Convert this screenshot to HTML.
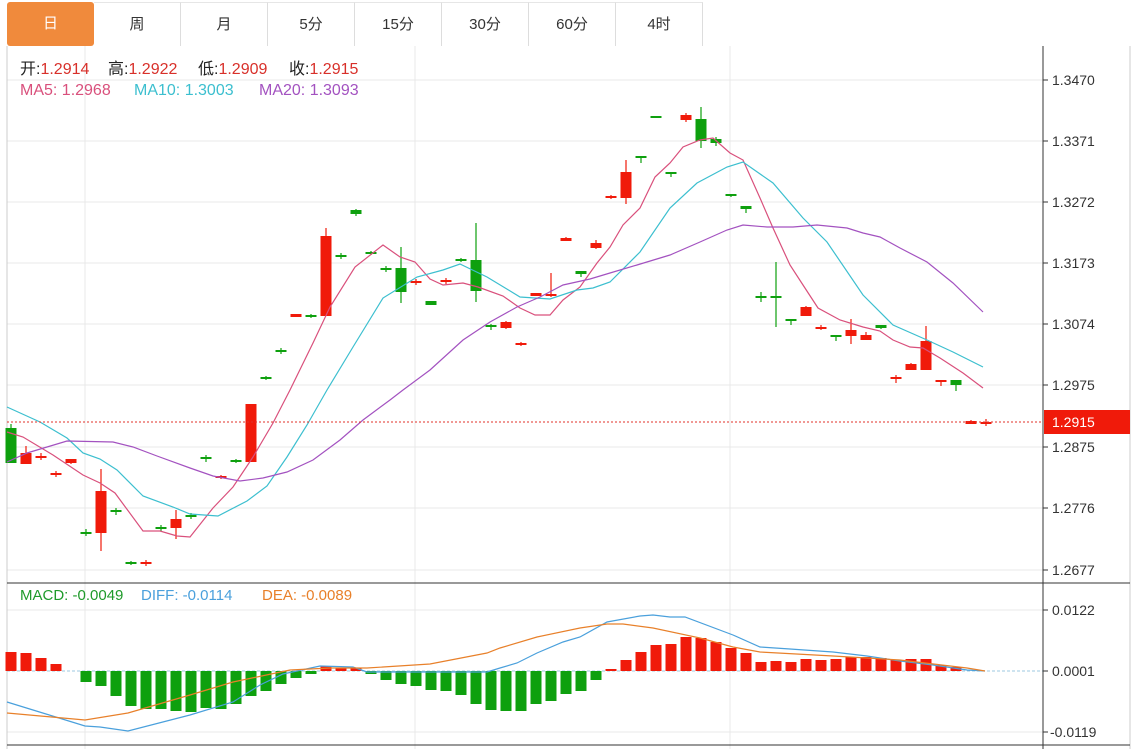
<!DOCTYPE html>
<html><head><meta charset="utf-8"><style>
body{margin:0;background:#fff;width:1140px;height:749px;overflow:hidden;font-family:"Liberation Sans","Noto Sans CJK SC",sans-serif}
.tabs{position:absolute;left:7px;top:2px;height:44px;display:flex}
.tab{width:87px;height:44px;border-right:1px solid #ddd;border-top:1px solid #e6e6e6;box-sizing:border-box;text-align:center;line-height:44px;font-size:15px;color:#333}
.tab.on{background:#f08a3c;color:#fff;border-radius:3px;border:none}
.lg{position:absolute;font-size:16px;white-space:nowrap}
.r{color:#d8302a}
</style></head><body>
<div class="tabs"><div class="tab on">日</div><div class="tab">周</div><div class="tab">月</div><div class="tab">5分</div><div class="tab">15分</div><div class="tab">30分</div><div class="tab">60分</div><div class="tab">4时</div></div>
<svg id="s" width="1140" height="749" style="position:absolute;left:0;top:0" font-family="Liberation Sans, sans-serif">
<g stroke="#e8e8e8" stroke-width="1">
<line x1="7" y1="80" x2="1043" y2="80"/><line x1="7" y1="141" x2="1043" y2="141"/><line x1="7" y1="202" x2="1043" y2="202"/><line x1="7" y1="263" x2="1043" y2="263"/><line x1="7" y1="324" x2="1043" y2="324"/><line x1="7" y1="385" x2="1043" y2="385"/><line x1="7" y1="447" x2="1043" y2="447"/><line x1="7" y1="508" x2="1043" y2="508"/><line x1="7" y1="570" x2="1043" y2="570"/>
<line x1="7" y1="610" x2="1043" y2="610"/><line x1="7" y1="732" x2="1043" y2="732"/>
<line x1="85" y1="46" x2="85" y2="749"/><line x1="415" y1="46" x2="415" y2="749"/><line x1="730" y1="46" x2="730" y2="749"/>
</g>
<line x1="7" y1="671" x2="1043" y2="671" stroke="#9cc8e0" stroke-dasharray="3,2"/>
<line x1="7" y1="46" x2="7" y2="749" stroke="#ccc"/>
<line x1="1130" y1="46" x2="1130" y2="749" stroke="#ccc"/>
<line x1="7" y1="583" x2="1130" y2="583" stroke="#333"/>
<line x1="7" y1="745" x2="1130" y2="745" stroke="#333"/>
<line x1="1043" y1="46" x2="1043" y2="749" stroke="#333"/>
<g id="c"></g>
<line x1="7" y1="422" x2="1043" y2="422" stroke="#e0302a" stroke-dasharray="2,2"/>
<g font-size="14" fill="#333">
<g stroke="#333"><line x1="1043" y1="80" x2="1048" y2="80"/><line x1="1043" y1="141" x2="1048" y2="141"/><line x1="1043" y1="202" x2="1048" y2="202"/><line x1="1043" y1="263" x2="1048" y2="263"/><line x1="1043" y1="324" x2="1048" y2="324"/><line x1="1043" y1="385" x2="1048" y2="385"/><line x1="1043" y1="447" x2="1048" y2="447"/><line x1="1043" y1="508" x2="1048" y2="508"/><line x1="1043" y1="570" x2="1048" y2="570"/><line x1="1043" y1="610" x2="1048" y2="610"/><line x1="1043" y1="671" x2="1048" y2="671"/><line x1="1043" y1="732" x2="1048" y2="732"/></g>
<text x="1052" y="85">1.3470</text><text x="1052" y="146">1.3371</text><text x="1052" y="207">1.3272</text><text x="1052" y="268">1.3173</text><text x="1052" y="329">1.3074</text><text x="1052" y="390">1.2975</text><text x="1052" y="452">1.2875</text><text x="1052" y="513">1.2776</text><text x="1052" y="575">1.2677</text>
<text x="1052" y="615">0.0122</text><text x="1052" y="676">0.0001</text><text x="1050" y="737">-0.0119</text>
</g>
<rect x="1044" y="410" width="86" height="24" fill="#f01a0a"/>
<text x="1052" y="427" font-size="14" fill="#fff">1.2915</text>
</svg>
<div class="lg" style="top:55px;left:20px;color:#222">开:<span class="r">1.2914</span></div>
<div class="lg" style="top:55px;left:108px;color:#222">高:<span class="r">1.2922</span></div>
<div class="lg" style="top:55px;left:198px;color:#222">低:<span class="r">1.2909</span></div>
<div class="lg" style="top:55px;left:289px;color:#222">收:<span class="r">1.2915</span></div>
<div class="lg" style="top:82px;left:20px;color:#d9507c">MA5: 1.2968</div>
<div class="lg" style="top:82px;left:134px;color:#3cbfcf">MA10: 1.3003</div>
<div class="lg" style="top:82px;left:259px;color:#a352c0">MA20: 1.3093</div>
<div class="lg" style="top:587px;left:20px;font-size:15px;color:#1e9a2a">MACD: -0.0049</div>
<div class="lg" style="top:587px;left:141px;font-size:15px;color:#4aa0dc">DIFF: -0.0114</div>
<div class="lg" style="top:587px;left:262px;font-size:15px;color:#e8802a">DEA: -0.0089</div>
<script>
var R="#f01a0a",G="#0ea00e",ns="http://www.w3.org/2000/svg",g=document.getElementById("c");
function el(t,a){var e=document.createElementNS(ns,t);for(var k in a)e.setAttribute(k,a[k]);g.appendChild(e);return e}
var C=[[428,463,424,463,0],[453,464,446,464,1],[456,458,453,460,1],[473,475,471,477,1],[459,463,459,464,1],[532,534,529,536,0],[491,533,469,551,1],[510,512,508,515,0],[562,564,561,565,0],[562,564,560,566,1],[527,529,525,531,0],[519,528,510,539,1],[515,517,513,519,0],[457,459,455,462,0],[476,478,475,479,1],[460,462,459,463,0],[404,462,404,462,1],[377,379,376,380,0],[350,352,348,354,0],[314,317,314,317,1],[315,317,314,318,0],[236,316,228,316,1],[255,257,253,259,0],[210,214,209,216,0],[252,254,251,255,0],[268,270,266,272,0],[268,292,247,303,0],[281,283,279,285,1],[301,305,301,305,0],[280,282,278,284,1],[259,261,258,262,0],[260,291,223,302,0],[325,327,324,330,0],[322,328,321,329,1],[343,345,342,346,1],[293,296,293,296,1],[294,296,273,297,1],[238,241,237,241,1],[271,274,271,277,0],[243,248,240,249,1],[196,198,195,199,1],[172,198,160,204,1],[156,158,156,163,0],[116,118,116,118,0],[172,174,172,177,0],[115,120,113,122,1],[119,141,107,148,0],[139,143,137,146,0],[194,196,194,197,0],[206,209,206,213,0],[296,298,292,302,0],[296,298,262,327,0],[319,321,319,325,0],[307,316,306,316,1],[327,329,325,330,1],[335,337,335,341,0],[330,336,319,344,1],[335,340,332,340,1],[325,328,325,329,0],[377,379,375,383,1],[364,370,363,370,1],[341,370,326,370,1],[380,382,380,386,1],[380,385,380,391,0],[421,424,420,424,1],[422,424,419,426,1]];
var M=[652,653,658,664,671,682,686,696,706,709,709,711,712,708,709,704,696,691,684,678,674,666,668,668,674,680,684,686,690,691,695,704,710,711,711,704,701,694,691,680,669,660,652,645,644,637,638,642,648,653,662,661,662,659,660,659,657,657,658,660,659,659,665,667,671];
M.forEach(function(v,k){var x=11+15*k;if(v==671)return;el("rect",{x:x-5.5,y:Math.min(v,671),width:11,height:Math.abs(v-671),fill:v<671?R:G})});
C.forEach(function(c,k){var x=11+15*k,col=c[4]?R:G;el("line",{x1:x,y1:c[2],x2:x,y2:c[3],stroke:col,"stroke-width":1.2});el("rect",{x:x-5.5,y:c[0],width:11,height:Math.max(c[1]-c[0],1.5),fill:col})});
function pl(p,col){el("polyline",{points:p,fill:"none",stroke:col,"stroke-width":1.2})}
pl("7,432 23,437 53,455 83,475 100,483 115,493 143,531 160,531 177,536 190,537 213,508 233,487 253,457 273,423 290,390 313,343 330,307 355,267 383,245 400,257 415,262 430,279 443,285 463,283 478,287 503,296 520,308 535,315 550,315 563,300 580,287 597,263 610,247 623,225 640,208 655,177 670,163 683,147 700,140 713,138 730,153 743,160 760,198 773,228 790,265 803,285 818,308 840,320 863,327 880,331 893,340 910,347 923,348 940,358 963,373 983,388","#d9507c");
pl("7,407 40,422 67,438 83,453 100,459 117,470 143,496 173,507 190,514 218,516 247,501 267,486 287,457 307,425 327,390 353,347 383,298 417,277 443,270 460,264 487,277 520,297 550,299 577,290 593,288 610,282 640,252 670,208 697,183 727,167 743,162 773,183 803,218 827,242 863,295 893,325 927,340 953,352 983,367","#3cbfcf");
pl("7,462 27,453 67,441 113,442 133,447 157,456 190,468 213,476 240,481 263,478 287,472 313,460 340,440 363,420 390,400 403,390 430,370 463,340 490,322 517,307 540,297 563,285 590,279 610,273 637,265 670,255 700,242 727,230 743,225 767,227 793,227 817,225 847,228 863,233 880,237 900,248 927,262 953,283 983,312","#a352c0");
pl("7,702 85,726 100,727 128,731 190,715 233,702 260,685 283,674 320,666 353,667 367,672 487,672 500,668 517,663 537,653 563,642 580,637 607,622 640,616 653,615 670,617 685,617 733,635 760,647 790,649 833,652 867,656 900,661 933,665 967,670 985,671","#4aa0dc");
pl("7,713 85,720 128,713 190,695 233,682 290,670 330,668 367,668 430,664 487,653 500,648 537,637 580,628 607,624 623,624 653,628 700,638 733,647 760,652 833,656 900,660 967,668 985,671","#e8802a");
</script>
</body></html>
